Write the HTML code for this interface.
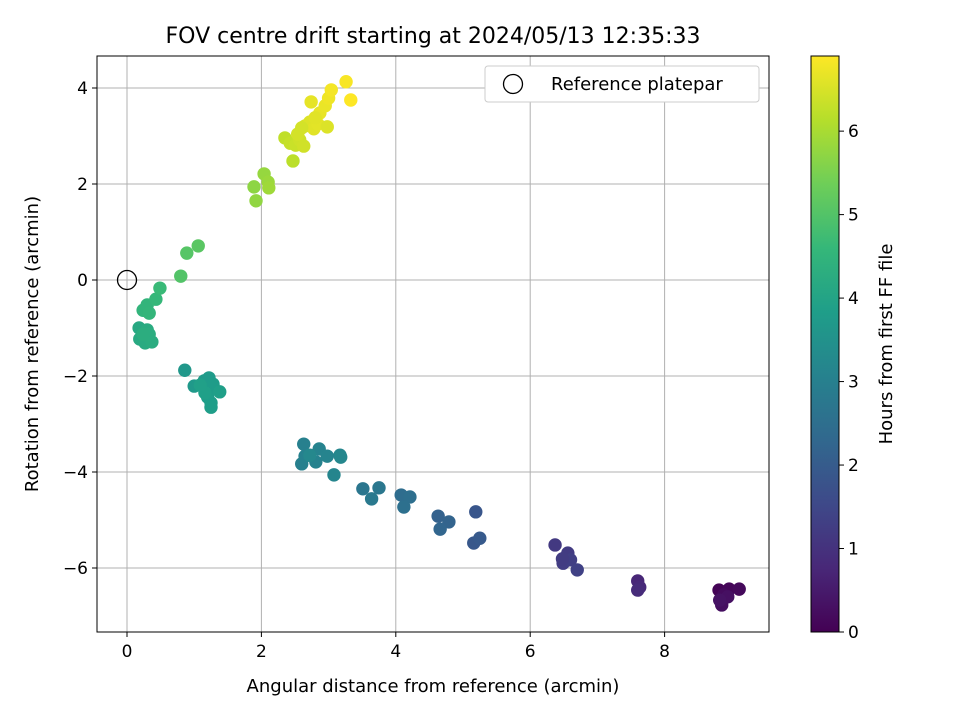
<!DOCTYPE html>
<html><head><meta charset="utf-8"><style>
body{margin:0;background:#fff;font-family:"Liberation Sans","DejaVu Sans",sans-serif}
svg text{font-family:"DejaVu Sans","Liberation Sans",sans-serif}
</style></head><body>
<svg id="chart" width="960" height="720" xmlns="http://www.w3.org/2000/svg">
<defs><linearGradient id="vir" x1="0" y1="1" x2="0" y2="0"></linearGradient></defs>
<rect width="960" height="720" fill="#fff"/>
<text x="433" y="43" font-size="22" text-anchor="middle">FOV centre drift starting at 2024/05/13 12:35:33</text>
<g id="grid"></g><g id="pts"></g><g id="axes"></g>
<text x="433" y="692" font-size="18" text-anchor="middle">Angular distance from reference (arcmin)</text>
<text transform="translate(38,344) rotate(-90)" font-size="18" text-anchor="middle">Rotation from reference (arcmin)</text>
<g>
<rect x="485" y="66" width="274" height="36" rx="3" fill="#fff" stroke="#ccc"/>
<circle cx="513" cy="84" r="9.5" fill="none" stroke="#000" stroke-width="1.3"/>
<text x="551" y="90" font-size="18">Reference platepar</text>
</g>
<rect x="811" y="56" width="28" height="576" fill="url(#vir)" stroke="#000"/>
<g id="cbar"></g>
<text transform="translate(892,344) rotate(-90)" font-size="18" text-anchor="middle">Hours from first FF file</text>
</svg>
<script>
const xs=[8.81,8.96,9.11,8.88,8.85,8.94,8.82,7.6,7.63,7.6,6.37,6.56,6.49,6.6,6.7,6.48,5.19,5.16,5.25,4.63,4.79,4.66,4.08,4.21,4.12,3.51,3.75,3.64,2.63,2.6,2.65,2.81,2.86,2.98,3.08,3.17,3.18,2.72,0.86,1.0,1.15,1.22,1.24,1.28,1.2,1.25,1.25,1.38,1.16,1.09,0.18,0.19,0.27,0.3,0.37,0.33,0.24,0.24,0.3,0.33,0.43,0.49,0.8,0.89,1.06,1.89,1.92,2.04,2.1,2.11,2.47,2.35,2.43,2.51,2.57,2.63,2.54,2.65,2.72,2.78,2.84,2.74,2.87,2.95,3.0,3.04,2.98,3.26,3.33,2.8,2.6];
const ys=[-6.46,-6.44,-6.44,-6.56,-6.77,-6.6,-6.67,-6.27,-6.4,-6.46,-5.52,-5.69,-5.9,-5.83,-6.04,-5.81,-4.83,-5.48,-5.38,-4.92,-5.04,-5.19,-4.48,-4.52,-4.73,-4.35,-4.33,-4.56,-3.42,-3.83,-3.67,-3.79,-3.52,-3.67,-4.06,-3.65,-3.69,-3.65,-1.88,-2.21,-2.10,-2.04,-2.27,-2.17,-2.44,-2.56,-2.65,-2.33,-2.35,-2.19,-1.0,-1.23,-1.31,-1.04,-1.29,-1.13,-1.13,-0.63,-0.52,-0.69,-0.4,-0.17,0.08,0.56,0.71,1.94,1.65,2.21,2.04,1.92,2.48,2.96,2.85,2.81,2.92,2.79,3.04,3.21,3.29,3.15,3.25,3.71,3.48,3.63,3.79,3.96,3.19,4.13,3.75,3.38,3.17];
const hours=[0.05,0.1,0.15,0.2,0.25,0.3,0.35,0.75,0.8,0.85,1.15,1.2,1.25,1.3,1.35,1.22,1.85,1.9,1.95,2.15,2.2,2.25,2.45,2.5,2.55,2.7,2.75,2.8,3.0,3.02,3.05,3.08,3.1,3.12,3.15,3.18,3.2,3.22,3.65,3.7,3.72,3.74,3.76,3.78,3.8,3.82,3.84,3.86,3.88,3.9,4.15,4.18,4.2,4.22,4.25,4.28,4.3,4.5,4.52,4.55,4.6,4.65,5.0,5.05,5.1,5.7,5.75,5.8,5.85,5.9,6.2,6.25,6.3,6.35,6.4,6.42,6.45,6.5,6.55,6.6,6.62,6.65,6.68,6.7,6.75,6.8,6.55,6.85,6.9,6.6,6.45];
const xTicks=[0,2,4,6,8], yTicks=[4,2,0,-2,-4,-6], cTicks=[0,1,2,3,4,5,6];
const HMAX=6.9;
const X=v=>127+v*67.2, Y=v=>280-v*48, C=v=>632-v*(576/HMAX);
const vir=[[68,1,84],[72,40,120],[62,73,137],[49,104,142],[38,130,142],[31,158,137],[53,183,121],[110,206,88],[181,222,43],[253,231,37]];
function col(t){t=Math.max(0,Math.min(1,t))*9;const i=Math.min(8,Math.floor(t)),f=t-i;const a=vir[i],b=vir[i+1];return `rgb(${a.map((v,k)=>Math.round(v+(b[k]-v)*f)).join(',')})`;}
const NS='http://www.w3.org/2000/svg';
function mk(p,tag,at){const e=document.createElementNS(NS,tag);for(const k in at)e.setAttribute(k,at[k]);p.appendChild(e);return e;}
const g=document.getElementById('grid'),ax=document.getElementById('axes'),pts=document.getElementById('pts'),cb=document.getElementById('cbar');
const grad=document.getElementById('vir');
vir.forEach((c,i)=>{mk(grad,'stop',{offset:(i/9*100)+'%','stop-color':`rgb(${c.join(',')})`});});
xTicks.forEach(v=>{const l=mk(g,'line',{x1:X(v),x2:X(v),y1:56,y2:632,stroke:'#b0b0b0','stroke-width':1});

mk(ax,'line',{x1:X(v),x2:X(v),y1:632,y2:637,stroke:'#000'});
const t=mk(ax,'text',{x:X(v),y:657,'font-size':17,'text-anchor':'middle'});t.textContent=v;
});
yTicks.forEach(v=>{const l=mk(g,'line',{x1:97,x2:769,y1:Y(v),y2:Y(v),stroke:'#b0b0b0','stroke-width':1});

mk(ax,'line',{x1:92,x2:97,y1:Y(v),y2:Y(v),stroke:'#000'});
const t=mk(ax,'text',{x:88,y:Y(v)+6,'font-size':17,'text-anchor':'end'});t.textContent=(v<0?'\u2212'+(-v):v);
});
const fr=mk(ax,'rect',{x:97,y:56,width:672,height:576,fill:'none',stroke:'#000','stroke-width':1});

const ref=mk(ax,'circle',{cx:X(0),cy:Y(0),r:9.5,fill:'none',stroke:'#000','stroke-width':1.3});

xs.forEach((x,i)=>{const c=mk(pts,'circle',{cx:X(x),cy:Y(ys[i]),r:6.7,fill:col(hours[i]/HMAX)});
});
cTicks.forEach(v=>{mk(cb,'line',{x1:839,x2:844,y1:C(v),y2:C(v),stroke:'#000'});
const t=mk(cb,'text',{x:848,y:C(v)+6,'font-size':17});t.textContent=v;
});
</script>
</body></html>
